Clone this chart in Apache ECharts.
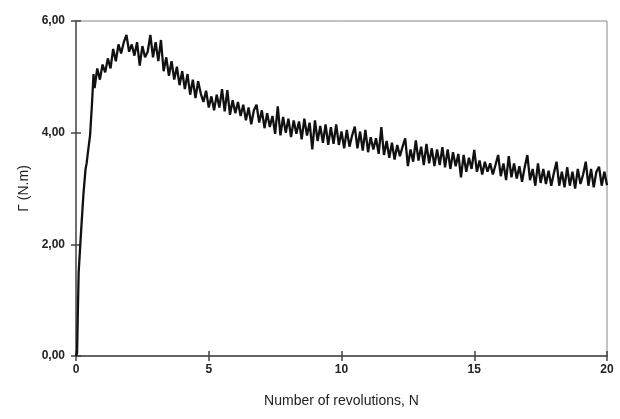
<!DOCTYPE html>
<html>
<head>
<meta charset="utf-8">
<script src="https://cdn.jsdelivr.net/npm/echarts@6/dist/echarts.min.js"></script>
<style>
html,body{margin:0;padding:0;background:#fff;}
#chart{width:620px;height:419px;}
</style>
</head>
<body>
<div id="chart"></div>
<script>
// Data
const xTicks = [0, 5, 10, 15, 20];
const yTickLabels = ['0,00', '2,00', '4,00', '6,00'];

// Initial steep rise
const riseN = [0, 0.04, 0.07, 0.1, 0.15, 0.2, 0.28, 0.36, 0.4, 0.45, 0.53, 0.6, 0.66];
const riseTorque = [0, 0.05, 0.8, 1.5, 1.9, 2.3, 2.9, 3.35, 3.45, 3.65, 3.95, 4.5, 5.05];

// Noisy part, N = 0.7 ... 20.0
const noisyN = [
  0.7, 0.8, 0.9, 1.0, 1.1, 1.2, 1.3, 1.4, 1.5, 1.6,
  1.7, 1.8, 1.9, 2.0, 2.1, 2.2, 2.3, 2.4, 2.5, 2.6,
  2.7, 2.8, 2.9, 3.0, 3.1, 3.2, 3.3, 3.4, 3.5, 3.6,
  3.7, 3.8, 3.9, 4.0, 4.1, 4.2, 4.3, 4.4, 4.5, 4.6,
  4.7, 4.8, 4.9, 5.0, 5.1, 5.2, 5.3, 5.4, 5.5, 5.6,
  5.7, 5.8, 5.9, 6.0, 6.1, 6.2, 6.3, 6.4, 6.5, 6.6,
  6.7, 6.8, 6.9, 7.0, 7.1, 7.2, 7.3, 7.4, 7.5, 7.6,
  7.7, 7.8, 7.9, 8.0, 8.1, 8.2, 8.3, 8.4, 8.5, 8.6,
  8.7, 8.8, 8.9, 9.0, 9.1, 9.2, 9.3, 9.4, 9.5, 9.6,
  9.7, 9.8, 9.9, 10.0, 10.1, 10.2, 10.3, 10.4, 10.5, 10.6,
  10.7, 10.8, 10.9, 11.0, 11.1, 11.2, 11.3, 11.4, 11.5, 11.6,
  11.7, 11.8, 11.9, 12.0, 12.1, 12.2, 12.3, 12.4, 12.5, 12.6,
  12.7, 12.8, 12.9, 13.0, 13.1, 13.2, 13.3, 13.4, 13.5, 13.6,
  13.7, 13.8, 13.9, 14.0, 14.1, 14.2, 14.3, 14.4, 14.5, 14.6,
  14.7, 14.8, 14.9, 15.0, 15.1, 15.2, 15.3, 15.4, 15.5, 15.6,
  15.7, 15.8, 15.9, 16.0, 16.1, 16.2, 16.3, 16.4, 16.5, 16.6,
  16.7, 16.8, 16.9, 17.0, 17.1, 17.2, 17.3, 17.4, 17.5, 17.6,
  17.7, 17.8, 17.9, 18.0, 18.1, 18.2, 18.3, 18.4, 18.5, 18.6,
  18.7, 18.8, 18.9, 19.0, 19.1, 19.2, 19.3, 19.4, 19.5, 19.6,
  19.7, 19.8, 19.9, 20.0
];
const noisyTorque = [
  4.80, 5.15, 4.95, 5.22, 5.08, 5.33, 5.15, 5.50, 5.28, 5.58,
  5.42, 5.62, 5.75, 5.45, 5.58, 5.38, 5.62, 5.20, 5.55, 5.35,
  5.45, 5.75, 5.35, 5.62, 5.28, 5.66, 5.10, 5.35, 5.02, 5.28,
  4.95, 5.18, 4.85, 5.10, 4.78, 5.05, 4.68, 4.95, 4.62, 4.92,
  4.70, 4.55, 4.75, 4.45, 4.65, 4.40, 4.68, 4.45, 4.78, 4.38,
  4.76, 4.32, 4.58, 4.35, 4.55, 4.30, 4.50, 4.22, 4.45, 4.15,
  4.40, 4.50, 4.18, 4.40, 4.08, 4.35, 4.10, 4.30, 3.98, 4.47,
  3.95, 4.28, 4.00, 4.25, 3.92, 4.22, 3.98, 4.20, 3.88, 4.25,
  3.95, 4.18, 3.70, 4.22, 3.85, 4.12, 3.82, 4.15, 3.78, 4.10,
  3.80, 4.15, 3.78, 4.02, 3.72, 4.05, 3.75, 3.95, 4.11, 3.72,
  4.02, 3.68, 4.05, 3.65, 3.92, 3.70, 3.90, 3.62, 4.10, 3.60,
  3.85, 3.55, 3.82, 3.52, 3.78, 3.58, 3.75, 3.90, 3.40, 3.70,
  3.48, 3.86, 3.50, 3.75, 3.42, 3.80, 3.45, 3.72, 3.40, 3.70,
  3.42, 3.74, 3.38, 3.70, 3.35, 3.65, 3.40, 3.62, 3.20, 3.60,
  3.30, 3.55, 3.35, 3.69, 3.30, 3.50, 3.25, 3.48, 3.30, 3.45,
  3.25, 3.42, 3.60, 3.22, 3.45, 3.15, 3.58, 3.20, 3.45, 3.18,
  3.40, 3.12, 3.38, 3.60, 3.15, 3.35, 3.05, 3.45, 3.10, 3.35,
  3.08, 3.32, 3.05, 3.28, 3.48, 3.05, 3.30, 3.02, 3.38, 3.05,
  3.30, 3.00, 3.35, 3.08, 3.25, 3.48, 3.05, 3.35, 3.02, 3.30,
  3.39, 3.05, 3.30, 3.06
];

const seriesData = [];
riseN.forEach((n, i) => seriesData.push([n, riseTorque[i]]));
noisyN.forEach((n, i) => seriesData.push([n, noisyTorque[i]]));

const yLabelMap = {};
yTickLabels.forEach((t, i) => { yLabelMap[i * 2] = t; });

const chart = echarts.init(document.getElementById('chart'), null, {renderer: 'canvas'});
const labelFont = {fontFamily: 'Liberation Sans, Arial, sans-serif', fontWeight: 'bold', fontSize: 12, color: '#222'};

chart.setOption({
  animation: false,
  backgroundColor: '#fff',
  grid: {left: 76, right: 13, top: 21, bottom: 63, show: true, borderColor: '#888', borderWidth: 1, backgroundColor: 'transparent'},
  xAxis: [{
    type: 'value', min: xTicks[0], max: xTicks[xTicks.length - 1], interval: 5,
    name: 'Number of revolutions, N', nameLocation: 'middle', nameGap: 38,
    nameTextStyle: {fontFamily: 'Liberation Sans, Arial, sans-serif', fontSize: 14, color: '#222'},
    axisLine: {show: true, lineStyle: {color: '#444', width: 1.5}},
    axisTick: {show: true, length: 5, lineStyle: {color: '#444', width: 1.5}},
    axisLabel: Object.assign({margin: 8}, labelFont),
    splitLine: {show: false}
  }, {
    type: 'value', min: xTicks[0], max: xTicks[xTicks.length - 1], interval: 5, position: 'bottom', offset: 0,
    axisLine: {show: false},
    axisTick: {show: true, inside: true, length: 5, lineStyle: {color: '#444', width: 1.5}},
    axisLabel: {show: false}, splitLine: {show: false}
  }],
  yAxis: [{
    type: 'value', min: 0, max: 6, interval: 2,
    name: 'Γ (N.m)', nameLocation: 'middle', nameGap: 45, nameRotate: 90,
    nameTextStyle: {fontFamily: 'Liberation Sans, Arial, sans-serif', fontSize: 14, color: '#222'},
    axisLine: {show: true, lineStyle: {color: '#555', width: 1.5}},
    axisTick: {show: true, length: 5, lineStyle: {color: '#444', width: 1.5}},
    axisLabel: Object.assign({margin: 11, formatter: v => yLabelMap[v] !== undefined ? yLabelMap[v] : ''}, labelFont),
    splitLine: {show: false}
  }, {
    type: 'value', min: 0, max: 6, interval: 2, position: 'left', offset: 0,
    axisLine: {show: false},
    axisTick: {show: true, inside: true, length: 5, lineStyle: {color: '#444', width: 1.5}},
    axisLabel: {show: false}, splitLine: {show: false}
  }],
  series: [{
    type: 'line', xAxisIndex: 0, yAxisIndex: 0,
    data: seriesData, showSymbol: false, symbol: 'none',
    lineStyle: {color: '#111', width: 2.3}
  }]
});
</script>
</body>
</html>
